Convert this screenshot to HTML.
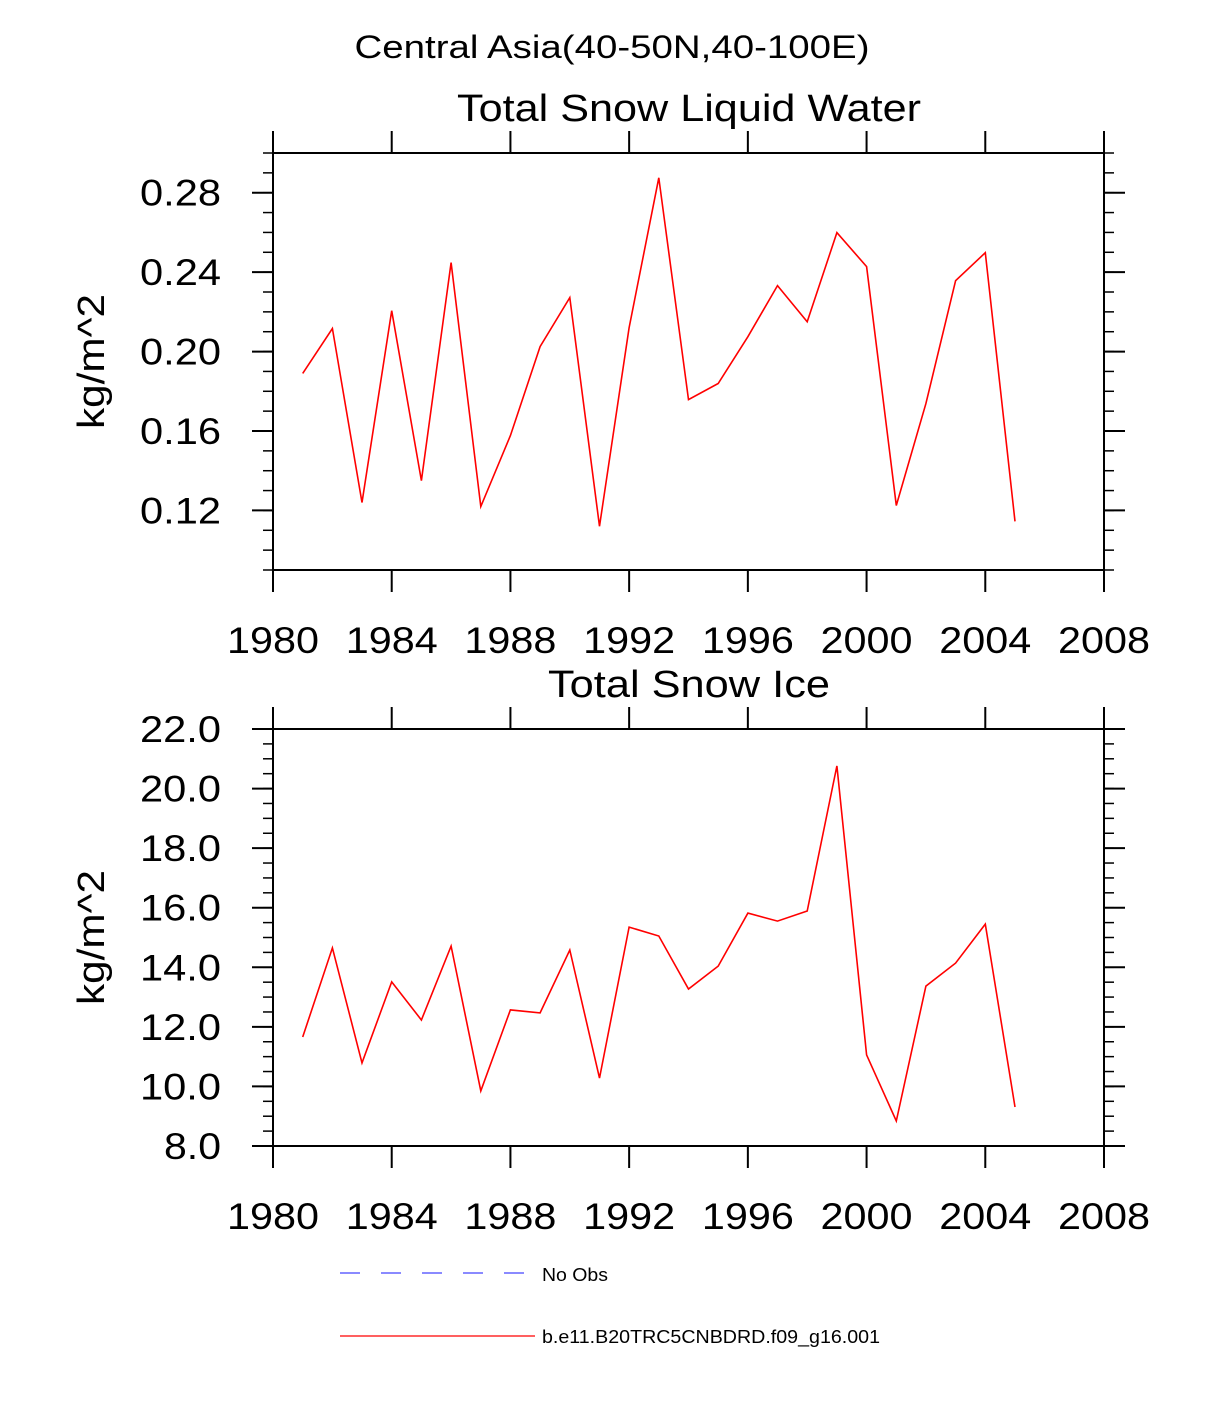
<!DOCTYPE html>
<html><head><meta charset="utf-8"><style>html,body{margin:0;padding:0;background:#fff}svg{display:block}text{font-family:"Liberation Sans",sans-serif;fill:#000}</style></head>
<body>
<svg id="chart" width="1224" height="1404" viewBox="0 0 1224 1404" xmlns="http://www.w3.org/2000/svg">
<text x="612" y="58" font-size="32" text-anchor="middle" textLength="515" lengthAdjust="spacingAndGlyphs">Central Asia(40-50N,40-100E)</text>
<g>
<line x1="340" y1="1273" x2="527" y2="1273" stroke="#4444ff" stroke-width="1.2" stroke-dasharray="20,21"/>
<text x="542" y="1281" font-size="18" textLength="66" lengthAdjust="spacingAndGlyphs">No Obs</text>
<line x1="340" y1="1336" x2="535" y2="1336" stroke="#ff0000" stroke-width="1.2"/>
<text x="542" y="1343" font-size="18" textLength="338" lengthAdjust="spacingAndGlyphs">b.e11.B20TRC5CNBDRD.f09_g16.001</text>
</g>
</svg>
<script>
const years = [1981,1982,1983,1984,1985,1986,1987,1988,1989,1990,1991,1992,1993,1994,1995,1996,1997,1998,1999,2000,2001,2002,2003,2004,2005];
const liquidWater = [0.189,0.2116,0.124,0.2206,0.135,0.2448,0.122,0.1577,0.2025,0.2272,0.112,0.212,0.2875,0.1758,0.1839,0.2075,0.2332,0.215,0.2599,0.2428,0.1225,0.1738,0.2357,0.2498,0.1145];
const snowIce = [11.66,14.65,10.79,13.51,12.23,14.71,9.85,12.57,12.47,14.58,10.28,15.35,15.05,13.27,14.04,15.82,15.55,15.89,20.76,11.06,8.84,13.37,14.14,15.45,9.31];
const xTicks = [1980,1984,1988,1992,1996,2000,2004,2008];
const yTicks1 = [0.12,0.16,0.20,0.24,0.28];
const yTicks2 = [8.0,10.0,12.0,14.0,16.0,18.0,20.0,22.0];

const svg = document.getElementById('chart');
const NS = 'http://www.w3.org/2000/svg';
function mk(tag, attrs, parent){const e=document.createElementNS(NS,tag);for(const k in attrs)e.setAttribute(k,attrs[k]);(parent||svg).appendChild(e);return e;}

function panel(cfg){
  const L=273,R=1104,T=cfg.top,B=cfg.bottom;
  const sx=v=>L+(v-1980)/(2008-1980)*(R-L);
  const sy=v=>B-(v-cfg.ymin)/(cfg.ymax-cfg.ymin)*(B-T);
  const g=mk('g',{});
  
  
  const t=mk('text',{x:689,y:T-32,'font-size':38,'text-anchor':'middle',textLength:cfg.titleLen,lengthAdjust:'spacingAndGlyphs'},g);
  t.textContent=cfg.title;
  
  
  const yl=mk('text',{x:0,y:0,'font-size':38,'text-anchor':'middle',textLength:135,lengthAdjust:'spacingAndGlyphs',transform:`translate(104,${(T+B)/2}) rotate(-90)`},g);
  yl.textContent='kg/m^2';
  
  
  for(let v=cfg.ymin;v<=cfg.ymax+1e-9;v+=cfg.minor){
    const y=sy(v);
    const m1=mk('line',{x1:L-10,y1:y,x2:L,y2:y,stroke:'#000','stroke-width':1.5},g);
    
    
    const m2=mk('line',{x1:R,y1:y,x2:R+10,y2:y,stroke:'#000','stroke-width':1.5},g);
    
    
  }
  cfg.yticks.forEach(v=>{
    const y=sy(v);
    const a=mk('line',{x1:L-21,y1:y,x2:L,y2:y,stroke:'#000','stroke-width':2},g);
    
    
    const b=mk('line',{x1:R,y1:y,x2:R+21,y2:y,stroke:'#000','stroke-width':2},g);
    
    
    const lab=v.toFixed(cfg.dec);
    const len=lab.length===3?57:81;
    const tx=mk('text',{x:221,y:y+13,'font-size':37,'text-anchor':'end',textLength:len,lengthAdjust:'spacingAndGlyphs'},g);
    tx.textContent=lab;
    
    
  });
  xTicks.forEach(v=>{
    const x=sx(v);
    const a=mk('line',{x1:x,y1:T-22,x2:x,y2:T,stroke:'#000','stroke-width':2},g);
    
    
    const b=mk('line',{x1:x,y1:B,x2:x,y2:B+22,stroke:'#000','stroke-width':2},g);
    
    
    const tx=mk('text',{x:x,y:B+83,'font-size':37,'text-anchor':'middle',textLength:92,lengthAdjust:'spacingAndGlyphs'},g);
    tx.textContent=v;
    
    
  });
  const box=mk('rect',{x:L,y:T,width:R-L,height:B-T,fill:'none',stroke:'#000','stroke-width':2},g);
  
  
  const pts=years.map((yr,i)=>sx(yr).toFixed(1)+','+sy(cfg.data[i]).toFixed(1)).join(' ');
  const pl=mk('polyline',{points:pts,fill:'none',stroke:'#ff0000','stroke-width':1.6},g);
  
  
}
panel({name:'liquid-water-panel',title:'Total Snow Liquid Water',titleLen:464,top:153,bottom:570,ymin:0.09,ymax:0.30,minor:0.01,yticks:yTicks1,dec:2,data:liquidWater});
panel({name:'snow-ice-panel',title:'Total Snow Ice',titleLen:282,top:729,bottom:1146,ymin:8,ymax:22,minor:0.5,yticks:yTicks2,dec:1,data:snowIce});
</script>
</body></html>
